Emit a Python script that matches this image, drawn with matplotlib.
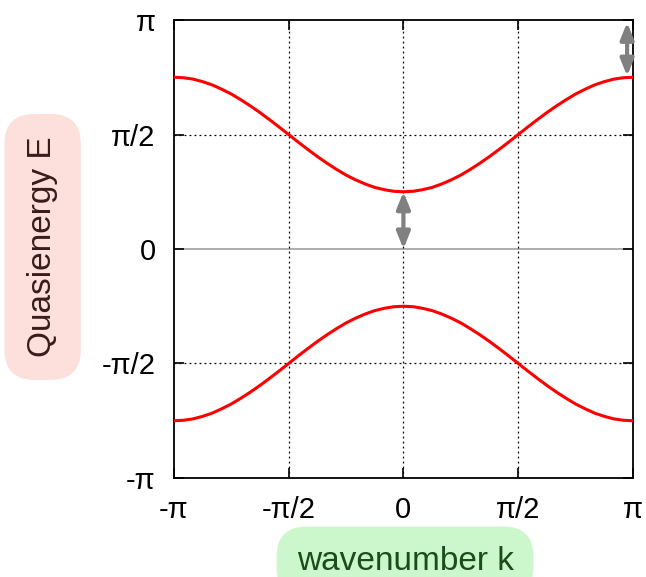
import numpy as np
import matplotlib
matplotlib.use("Agg")
import matplotlib.pyplot as plt

# wavenumber k (in units of pi), from -1 to 1 in steps of 1/24
k_pi = np.linspace(-1.0, 1.0, 49)
# read-off upper band E (in units of pi) for k = 0 .. 1, band is symmetric in k
upper_half = [0.250, 0.252, 0.259, 0.269, 0.284, 0.302, 0.323, 0.348, 0.375, 0.404, 0.435, 0.467, 0.500,
              0.533, 0.565, 0.596, 0.625, 0.652, 0.677, 0.698, 0.717, 0.731, 0.742, 0.748, 0.750]
upper_pi = upper_half[::-1] + upper_half[1:]
lower_pi = [-v for v in upper_pi]

# gap arrows (k, E_from, E_to), in units of pi
arrows = [(0.0, 0.0, 0.25), (0.974, 0.755, 0.99)]

tick_vals = [-1.0, -0.5, 0.0, 0.5, 1.0]
tick_labels = ["-π", "-π/2", "0", "π/2", "π"]

plt.rcParams['font.family'] = ['Liberation Sans', 'DejaVu Sans']

fig = plt.figure(figsize=(6.46, 5.77), dpi=100)
ax = fig.add_axes([0.269, 0.1716, 0.711, 0.7937])

k = np.array(k_pi) * np.pi
ax.plot(k, np.array(upper_pi) * np.pi, color="#ff0000", lw=2.2, zorder=3)
ax.plot(k, np.array(lower_pi) * np.pi, color="#ff0000", lw=2.2, zorder=3)

# zero line and dotted grid
ax.axhline(0, color="#a0a0a0", lw=1.2, zorder=1)
for t in [-0.5, 0.5]:
    ax.axhline(t * np.pi, color="black", lw=0.9, ls=(0, (1.5, 2.5)), zorder=1)
for t in [-0.5, 0.0, 0.5]:
    ax.axvline(t * np.pi, color="black", lw=0.9, ls=(0, (1.5, 2.5)), zorder=1)

for xa, y0, y1 in arrows:
    ax.annotate("", xy=(xa * np.pi, y1 * np.pi), xytext=(xa * np.pi, y0 * np.pi),
                arrowprops=dict(arrowstyle="<|-|>,head_length=1.0,head_width=0.4",
                                color="#808080", lw=3, shrinkA=0, shrinkB=0),
                zorder=4)

ax.set_xlim(-np.pi, np.pi)
ax.set_ylim(-np.pi, np.pi)
ax.set_xticks(np.array(tick_vals) * np.pi)
ax.set_yticks(np.array(tick_vals) * np.pi)
ax.set_xticklabels(tick_labels, fontsize=21)
ax.set_yticklabels(tick_labels, fontsize=21)
ax.tick_params(direction="in", length=7, width=1.2, top=True, right=True, pad=13)
for s in ax.spines.values():
    s.set_linewidth(1.3)

# axis labels in rounded boxes
fig.text(0.066, 0.572, "Quasienergy E", rotation=90, ha="center", va="center",
         fontsize=24, color="#3a1a1a",
         bbox=dict(boxstyle="round,pad=0.68,rounding_size=0.9", fc="#fde0dc", ec="none"))
fig.text(0.627, 0.026, "wavenumber k", ha="center", va="center",
         fontsize=24, color="#1b4d1b",
         bbox=dict(boxstyle="round,pad=0.6,rounding_size=0.9", fc="#ccf7cc", ec="none"))

fig.savefig("out.png", dpi=100)
